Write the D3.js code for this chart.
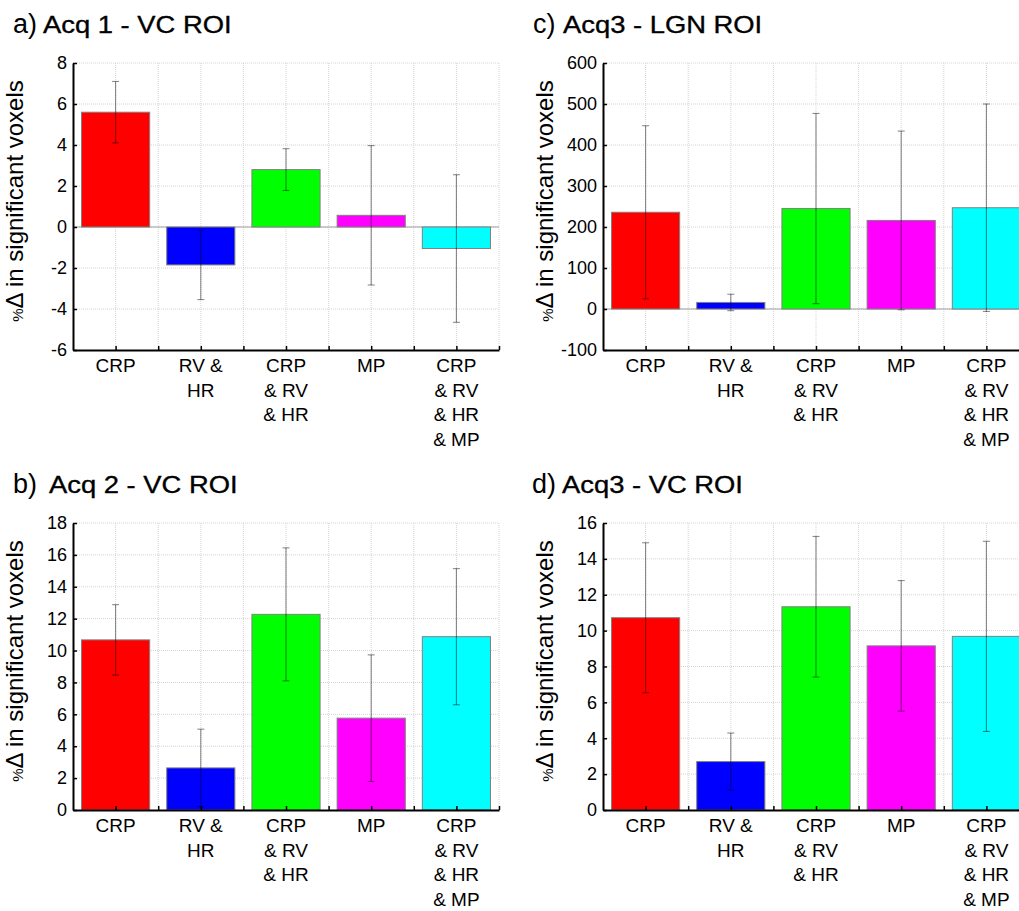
<!DOCTYPE html>
<html>
<head>
<meta charset="utf-8">
<script src="https://cdn.jsdelivr.net/npm/d3@7/dist/d3.min.js"></script>
<style>
    body { margin: 0; background: #fff; }
    text { font-family: "Liberation Sans", Arial, Helvetica, sans-serif; fill: #000; }
</style>
</head>
<body>
<svg id="chart" width="1019" height="911"></svg>
<script>
// categories (one entry per bar, split into label lines)
var categories = [["CRP"], ["RV &", "HR"], ["CRP", "& RV", "& HR"], ["MP"], ["CRP", "& RV", "& HR", "& MP"]];
var barColors = ["#ff0000", "#0000ff", "#00ff00", "#ff00ff", "#00ffff"];

var panelLetters = ["a)", "b)", "c)", "d)"];
var panelTitles = ["Acq 1 - VC ROI", "Acq 2 - VC ROI", "Acq3 - LGN ROI", "Acq3 - VC ROI"];
var yLabelText = " in significant voxels";

var yDomains = [[-6, 8], [0, 18], [-100, 600], [0, 16]];
var yTicksA = [-6, -4, -2, 0, 2, 4, 6, 8];
var yTicksB = [0, 2, 4, 6, 8, 10, 12, 14, 16, 18];
var yTicksC = [-100, 0, 100, 200, 300, 400, 500, 600];
var yTicksD = [0, 2, 4, 6, 8, 10, 12, 14, 16];

// bar heights and error bar half-widths
var acq1VcMeans = [5.6, -1.85, 2.8, 0.57, -1.05];
var acq1VcErrors = [1.5, 1.69, 1.02, 3.4, 3.6];
var acq2VcMeans = [10.67, 2.64, 12.27, 5.76, 10.87];
var acq2VcErrors = [2.21, 2.43, 4.17, 3.97, 4.27];
var acq3LgnMeans = [236, 16, 245, 216, 247];
var acq3LgnErrors = [211, 20, 232, 218, 253];
var acq3VcMeans = [10.72, 2.7, 11.33, 9.15, 9.68];
var acq3VcErrors = [4.18, 1.59, 3.92, 3.64, 5.3];

var plotWidth = 426;
var plotHeight = 287;

var panels = [
    {left: 73, top: 63, letterX: 13, titleX: 43, ticks: yTicksA, means: acq1VcMeans, errors: acq1VcErrors},
    {left: 73, top: 523, letterX: 13, titleX: 49, ticks: yTicksB, means: acq2VcMeans, errors: acq2VcErrors},
    {left: 603, top: 63, letterX: 533, titleX: 563, ticks: yTicksC, means: acq3LgnMeans, errors: acq3LgnErrors},
    {left: 603, top: 523, letterX: 532, titleX: 562, ticks: yTicksD, means: acq3VcMeans, errors: acq3VcErrors}
];

var svg = d3.select("#chart");

panels.forEach(function (p, pi) {
    var x = d3.scaleLinear().domain([0.5, 5.5]).range([p.left, p.left + plotWidth]);
    var y = d3.scaleLinear().domain(yDomains[pi]).range([p.top + plotHeight, p.top]);
    var g = svg.append("g").attr("class", "panel" + pi);
    var gridX = d3.range(1, 5.51, 0.5);
    var barWidth = x(1.4) - x(0.6);

    //dotted grid
    g.selectAll("line.hgrid")
        .data(p.ticks.slice(1))
        .enter()
        .append("line")
        .attr("class", "hgrid")
        .attr("x1", x(0.5))
        .attr("x2", x(5.5))
        .attr("y1", function (d) { return y(d); })
        .attr("y2", function (d) { return y(d); })
        .style("stroke", "#d4d4d4")
        .style("stroke-dasharray", "1,1");

    g.selectAll("line.vgrid")
        .data(gridX)
        .enter()
        .append("line")
        .attr("class", "vgrid")
        .attr("x1", function (d) { return x(d); })
        .attr("x2", function (d) { return x(d); })
        .attr("y1", p.top)
        .attr("y2", p.top + plotHeight)
        .style("stroke", "#d4d4d4")
        .style("stroke-dasharray", "1,1");

    //baseline when zero is inside the plot
    if (yDomains[pi][0] < 0) {
        g.append("line")
            .attr("x1", x(0.5))
            .attr("x2", x(5.5))
            .attr("y1", y(0))
            .attr("y2", y(0))
            .style("stroke", "#a0a0a0")
            .style("stroke-width", 1);
    }

    g.selectAll("rect.bar")
        .data(p.means)
        .enter()
        .append("rect")
        .attr("class", "bar")
        .attr("x", function (d, i) { return x(i + 1) - barWidth / 2; })
        .attr("y", function (d) { return Math.min(y(0), y(d)); })
        .attr("width", barWidth)
        .attr("height", function (d) { return Math.abs(y(d) - y(0)); })
        .style("fill", function (d, i) { return barColors[i]; })
        .style("stroke", "#808080")
        .style("stroke-width", 1);

    //error bars
    var err = g.selectAll("g.err")
        .data(p.means)
        .enter()
        .append("g")
        .attr("class", "err")
        .style("stroke", "#000")
        .style("stroke-opacity", 0.45)
        .style("stroke-width", 1.1);

    err.append("line")
        .attr("x1", function (d, i) { return x(i + 1); })
        .attr("x2", function (d, i) { return x(i + 1); })
        .attr("y1", function (d, i) { return y(d - p.errors[i]); })
        .attr("y2", function (d, i) { return y(d + p.errors[i]); });

    [-1, 1].forEach(function (s) {
        err.append("line")
            .attr("x1", function (d, i) { return x(i + 1) - 3.5; })
            .attr("x2", function (d, i) { return x(i + 1) + 3.5; })
            .attr("y1", function (d, i) { return y(d + s * p.errors[i]); })
            .attr("y2", function (d, i) { return y(d + s * p.errors[i]); });
    });

    //axes
    var yAxis = d3.axisLeft(y).tickValues(p.ticks).tickSize(-4).tickSizeOuter(0).tickPadding(6)
        .tickFormat(function (d) { return String(d); });
    var xAxis = d3.axisBottom(x).tickValues(gridX).tickSize(-4).tickSizeOuter(0).tickFormat("");

    var ya = g.append("g").attr("transform", "translate(" + p.left + ",0)").call(yAxis);
    var xa = g.append("g").attr("transform", "translate(0," + (p.top + plotHeight) + ")").call(xAxis);

    [ya, xa].forEach(function (a) {
        a.select(".domain").style("stroke", "#000").style("stroke-width", 2);
        a.selectAll(".tick line").style("stroke", "#000").style("stroke-width", 1.5);
    });
    ya.selectAll(".tick text")
        .style("font-family", "'Liberation Sans', Arial, sans-serif")
        .style("font-size", "18px")
        .style("fill", "#000");

    //category labels
    var labels = g.selectAll("text.cat")
        .data(categories)
        .enter()
        .append("text")
        .attr("class", "cat")
        .attr("text-anchor", "middle")
        .style("font-size", "19px");

    labels.each(function (lines, i) {
        var t = d3.select(this);
        lines.forEach(function (line, li) {
            t.append("tspan")
                .attr("x", x(i + 1))
                .attr("y", p.top + plotHeight + 22 + li * 24.6)
                .text(line);
        });
    });

    //y label
    var yl = g.append("text")
        .attr("transform", "translate(" + (p.left - 50) + "," + (p.top + 138) + ") rotate(-90)")
        .attr("text-anchor", "middle")
        .style("font-size", "24px");
    yl.append("tspan").style("font-size", "15px").text("%");
    yl.append("tspan").text("\u0394" + yLabelText);

    //title
    g.append("text")
        .attr("x", p.letterX)
        .attr("y", p.top - 30)
        .style("font-size", "27px")
        .text(panelLetters[pi]);

    var title = g.append("text")
        .attr("x", p.titleX)
        .attr("y", p.top - 30)
        .style("font-size", "24px")
        .style("stroke", "#000")
        .style("stroke-width", 0.35)
        .text(panelTitles[pi]);
    var w = title.node().getComputedTextLength();
    title.attr("textLength", w * 1.14).attr("lengthAdjust", "spacingAndGlyphs");
});
</script>
</body>
</html>
